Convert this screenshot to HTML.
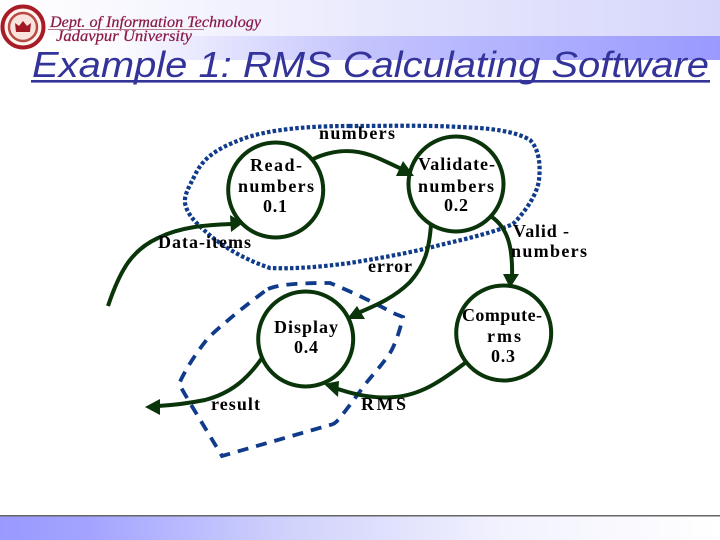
<!DOCTYPE html>
<html><head><meta charset="utf-8"><style>html,body{margin:0;padding:0;background:#fff}svg{display:block}
.t{font:bold 18px "Liberation Serif",serif;fill:#000}
</style></head><body>
<svg width="720" height="540" viewBox="0 0 720 540" xmlns="http://www.w3.org/2000/svg">
<defs>
<linearGradient id="a" x1="0" x2="1" y1="0" y2="0"><stop offset="0" stop-color="#fff"/><stop offset="1" stop-color="#d6d6fb"/></linearGradient>
<linearGradient id="b" x1="0" x2="1" y1="0" y2="0"><stop offset="0.14" stop-color="#fff"/><stop offset="0.5" stop-color="#c4c4fd"/><stop offset="1" stop-color="#9999ff"/></linearGradient>
<linearGradient id="c" x1="0" x2="1" y1="0" y2="0"><stop offset="0" stop-color="#9999ff"/><stop offset="0.12" stop-color="#a3a3ff"/><stop offset="0.4" stop-color="#d0d2fc"/><stop offset="0.7" stop-color="#f2f2fe"/><stop offset="1" stop-color="#fff"/></linearGradient>
</defs>
<rect width="720" height="36" fill="url(#a)"/>
<rect y="36" width="720" height="24" fill="url(#b)"/>
<rect y="516.5" width="720" height="23.5" fill="url(#c)"/>
<rect y="515" width="720" height="1.5" fill="#666"/>

<circle cx="23" cy="27" r="20.5" fill="#fff3ee" stroke="#a81c28" stroke-width="4"/>
<circle cx="23" cy="27" r="14" fill="#f8e4dc" stroke="#b84a44" stroke-width="2.5"/>
<path d="M15 23l4 3 4-5 4 5 4-3-1 9H16z" fill="#a01824"/>
<text x="50" y="27" font-family="Liberation Serif,serif" font-style="italic" font-size="16" fill="#8c1a48" stroke="#8c1a48" stroke-width=".25" textLength="211" lengthAdjust="spacingAndGlyphs">Dept. of Information Technology</text>
<line x1="48" y1="29.5" x2="204" y2="29.5" stroke="#b4788c" stroke-width="1"/>
<text x="56" y="41" font-family="Liberation Serif,serif" font-style="italic" font-size="15.5" fill="#8c1a48" stroke="#8c1a48" stroke-width=".25" textLength="136" lengthAdjust="spacingAndGlyphs">Jadavpur University</text>

<text x="32" y="77" font-family="Liberation Sans,sans-serif" font-style="italic" font-size="36" fill="#333399" textLength="677" lengthAdjust="spacingAndGlyphs">Example 1: RMS Calculating Software</text>
<rect x="31" y="80" width="679" height="2.6" fill="#333399"/>

<g fill="none" stroke="#103a8a" stroke-width="4.2">
<path stroke-dasharray="3.5 2.2" d="M350 126C310 126 267 129 240 140C215 149 202 160 195 175C189 187 184 195 185 203C187 214 195 222 205 231C218 243 240 258 270 268C295 269 320 267 350 263C380 258 410 253 440 245C470 238 495 232 513 224C525 212 537 195 539 180C541 162 538 148 530 140C515 131 490 128 460 127C425 125 385 126 350 126Z"/>
<path stroke-width="3.8" stroke-dasharray="11 8" d="M268 289C282 283 312 283 330 283C350 291 375 303 393 313L403 317C400 330 395 345 390 353C382 365 375 372 367 382C355 398 345 412 338 420Q335 424 330 425L222 456L190 403L179 384C186 368 197 352 208 338C225 322 245 306 265 291Z"/>
</g>

<g fill="none" stroke="#0a3409" stroke-width="4">
<circle cx="275.7" cy="190" r="47.5"/>
<circle cx="456" cy="184" r="47.5"/>
<circle cx="503.7" cy="333" r="47.5"/>
<circle cx="305.7" cy="339" r="47.5"/>
<path d="M313 159C330 151 350 148 370 155C382 159 392 165 404 170"/>
<path d="M108 306C120 270 132 250 158 238C180 227 205 225 232 224"/>
<path d="M492 217C507 228 513 245 512 278"/>
<path d="M431 225C429 250 425 265 410 282C395 297 377 305 358 313"/>
<path d="M465 363C440 382 420 395 395 397C375 399 355 395 335 388"/>
<path d="M262 358C248 378 232 393 205 400C190 403 175 405 158 406"/>
</g>
<g fill="#0a3409">
<path d="M243 223L230 215L231 232Z"/>
<path d="M414 176L403 161L396 176Z"/>
<path d="M510 288L503 274L519 274Z"/>
<path d="M347 319L365 319L357 306Z"/>
<path d="M324 384L339 381L338 397Z"/>
<path d="M145 407L160 399L160 415Z"/>
</g>

<text class="t" x="319" y="139" textLength="76" lengthAdjust="spacing">numbers</text>
<text class="t" x="250" y="171" textLength="52" lengthAdjust="spacing">Read-</text>
<text class="t" x="238" y="192" textLength="76" lengthAdjust="spacing">numbers</text>
<text class="t" x="263" y="212" textLength="24" lengthAdjust="spacing">0.1</text>
<text class="t" x="418" y="170" textLength="77" lengthAdjust="spacing">Validate-</text>
<text class="t" x="418" y="192" textLength="76" lengthAdjust="spacing">numbers</text>
<text class="t" x="444" y="211" textLength="24" lengthAdjust="spacing">0.2</text>
<text class="t" x="158" y="248" textLength="93" lengthAdjust="spacing">Data-items</text>
<text class="t" x="368" y="272" textLength="44" lengthAdjust="spacing">error</text>
<text class="t" x="513" y="237" textLength="56" lengthAdjust="spacing">Valid -</text>
<text class="t" x="511" y="257" textLength="76" lengthAdjust="spacing">numbers</text>
<text class="t" x="462" y="321" textLength="80" lengthAdjust="spacing">Compute-</text>
<text class="t" x="487" y="342" textLength="34" lengthAdjust="spacing">rms</text>
<text class="t" x="491" y="362" textLength="24" lengthAdjust="spacing">0.3</text>
<text class="t" x="274" y="333" textLength="64" lengthAdjust="spacing">Display</text>
<text class="t" x="294" y="353" textLength="24" lengthAdjust="spacing">0.4</text>
<text class="t" x="211" y="410" textLength="49" lengthAdjust="spacing">result</text>
<text class="t" x="361" y="410" textLength="45" lengthAdjust="spacing">RMS</text>
</svg>
</body></html>
